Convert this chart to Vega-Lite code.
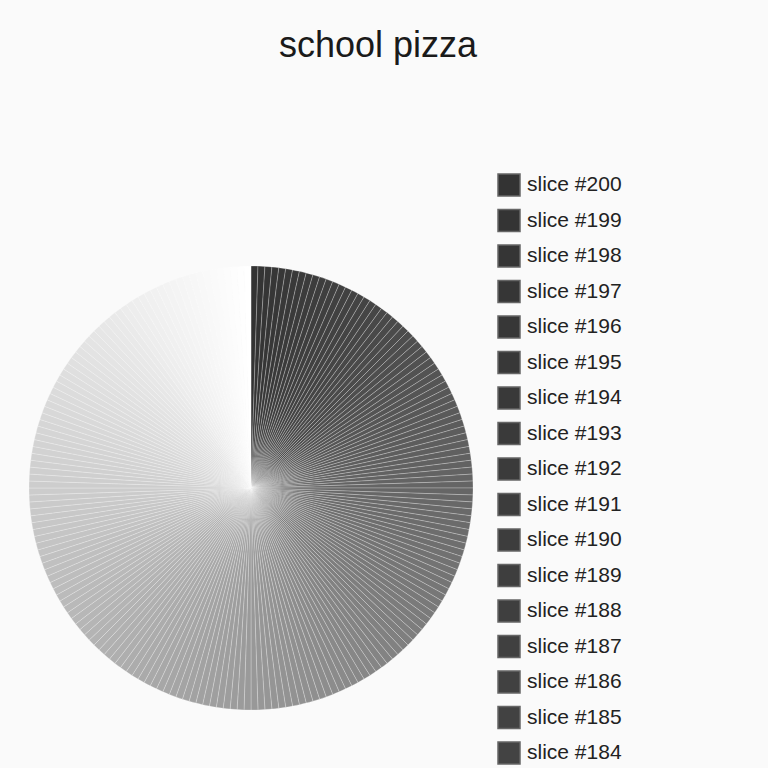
{
  "$schema": "https://vega.github.io/schema/vega-lite/v6.json",
  "width": 444,
  "height": 444,
  "autosize": "none",
  "padding": {"left": 29, "top": 266, "right": 295, "bottom": 58},
  "background": "#fafafa",
  "title": {
    "text": "school pizza",
    "font": "Liberation Sans",
    "fontSize": 36,
    "fontWeight": "normal",
    "color": "#1a1a1a",
    "anchor": "middle",
    "frame": "group",
    "baseline": "alphabetic",
    "dx": 127,
    "offset": 80
  },
  "config": {"view": {"stroke": null}},
  "data": {
    "values": [
      {"slice": "slice #200", "n": 200, "v": 1}, {"slice": "slice #199", "n": 199, "v": 1}, {"slice": "slice #198", "n": 198, "v": 1}, {"slice": "slice #197", "n": 197, "v": 1},
      {"slice": "slice #196", "n": 196, "v": 1}, {"slice": "slice #195", "n": 195, "v": 1}, {"slice": "slice #194", "n": 194, "v": 1}, {"slice": "slice #193", "n": 193, "v": 1},
      {"slice": "slice #192", "n": 192, "v": 1}, {"slice": "slice #191", "n": 191, "v": 1}, {"slice": "slice #190", "n": 190, "v": 1}, {"slice": "slice #189", "n": 189, "v": 1},
      {"slice": "slice #188", "n": 188, "v": 1}, {"slice": "slice #187", "n": 187, "v": 1}, {"slice": "slice #186", "n": 186, "v": 1}, {"slice": "slice #185", "n": 185, "v": 1},
      {"slice": "slice #184", "n": 184, "v": 1}, {"slice": "slice #183", "n": 183, "v": 1}, {"slice": "slice #182", "n": 182, "v": 1}, {"slice": "slice #181", "n": 181, "v": 1},
      {"slice": "slice #180", "n": 180, "v": 1}, {"slice": "slice #179", "n": 179, "v": 1}, {"slice": "slice #178", "n": 178, "v": 1}, {"slice": "slice #177", "n": 177, "v": 1},
      {"slice": "slice #176", "n": 176, "v": 1}, {"slice": "slice #175", "n": 175, "v": 1}, {"slice": "slice #174", "n": 174, "v": 1}, {"slice": "slice #173", "n": 173, "v": 1},
      {"slice": "slice #172", "n": 172, "v": 1}, {"slice": "slice #171", "n": 171, "v": 1}, {"slice": "slice #170", "n": 170, "v": 1}, {"slice": "slice #169", "n": 169, "v": 1},
      {"slice": "slice #168", "n": 168, "v": 1}, {"slice": "slice #167", "n": 167, "v": 1}, {"slice": "slice #166", "n": 166, "v": 1}, {"slice": "slice #165", "n": 165, "v": 1},
      {"slice": "slice #164", "n": 164, "v": 1}, {"slice": "slice #163", "n": 163, "v": 1}, {"slice": "slice #162", "n": 162, "v": 1}, {"slice": "slice #161", "n": 161, "v": 1},
      {"slice": "slice #160", "n": 160, "v": 1}, {"slice": "slice #159", "n": 159, "v": 1}, {"slice": "slice #158", "n": 158, "v": 1}, {"slice": "slice #157", "n": 157, "v": 1},
      {"slice": "slice #156", "n": 156, "v": 1}, {"slice": "slice #155", "n": 155, "v": 1}, {"slice": "slice #154", "n": 154, "v": 1}, {"slice": "slice #153", "n": 153, "v": 1},
      {"slice": "slice #152", "n": 152, "v": 1}, {"slice": "slice #151", "n": 151, "v": 1}, {"slice": "slice #150", "n": 150, "v": 1}, {"slice": "slice #149", "n": 149, "v": 1},
      {"slice": "slice #148", "n": 148, "v": 1}, {"slice": "slice #147", "n": 147, "v": 1}, {"slice": "slice #146", "n": 146, "v": 1}, {"slice": "slice #145", "n": 145, "v": 1},
      {"slice": "slice #144", "n": 144, "v": 1}, {"slice": "slice #143", "n": 143, "v": 1}, {"slice": "slice #142", "n": 142, "v": 1}, {"slice": "slice #141", "n": 141, "v": 1},
      {"slice": "slice #140", "n": 140, "v": 1}, {"slice": "slice #139", "n": 139, "v": 1}, {"slice": "slice #138", "n": 138, "v": 1}, {"slice": "slice #137", "n": 137, "v": 1},
      {"slice": "slice #136", "n": 136, "v": 1}, {"slice": "slice #135", "n": 135, "v": 1}, {"slice": "slice #134", "n": 134, "v": 1}, {"slice": "slice #133", "n": 133, "v": 1},
      {"slice": "slice #132", "n": 132, "v": 1}, {"slice": "slice #131", "n": 131, "v": 1}, {"slice": "slice #130", "n": 130, "v": 1}, {"slice": "slice #129", "n": 129, "v": 1},
      {"slice": "slice #128", "n": 128, "v": 1}, {"slice": "slice #127", "n": 127, "v": 1}, {"slice": "slice #126", "n": 126, "v": 1}, {"slice": "slice #125", "n": 125, "v": 1},
      {"slice": "slice #124", "n": 124, "v": 1}, {"slice": "slice #123", "n": 123, "v": 1}, {"slice": "slice #122", "n": 122, "v": 1}, {"slice": "slice #121", "n": 121, "v": 1},
      {"slice": "slice #120", "n": 120, "v": 1}, {"slice": "slice #119", "n": 119, "v": 1}, {"slice": "slice #118", "n": 118, "v": 1}, {"slice": "slice #117", "n": 117, "v": 1},
      {"slice": "slice #116", "n": 116, "v": 1}, {"slice": "slice #115", "n": 115, "v": 1}, {"slice": "slice #114", "n": 114, "v": 1}, {"slice": "slice #113", "n": 113, "v": 1},
      {"slice": "slice #112", "n": 112, "v": 1}, {"slice": "slice #111", "n": 111, "v": 1}, {"slice": "slice #110", "n": 110, "v": 1}, {"slice": "slice #109", "n": 109, "v": 1},
      {"slice": "slice #108", "n": 108, "v": 1}, {"slice": "slice #107", "n": 107, "v": 1}, {"slice": "slice #106", "n": 106, "v": 1}, {"slice": "slice #105", "n": 105, "v": 1},
      {"slice": "slice #104", "n": 104, "v": 1}, {"slice": "slice #103", "n": 103, "v": 1}, {"slice": "slice #102", "n": 102, "v": 1}, {"slice": "slice #101", "n": 101, "v": 1},
      {"slice": "slice #100", "n": 100, "v": 1}, {"slice": "slice #99", "n": 99, "v": 1}, {"slice": "slice #98", "n": 98, "v": 1}, {"slice": "slice #97", "n": 97, "v": 1},
      {"slice": "slice #96", "n": 96, "v": 1}, {"slice": "slice #95", "n": 95, "v": 1}, {"slice": "slice #94", "n": 94, "v": 1}, {"slice": "slice #93", "n": 93, "v": 1},
      {"slice": "slice #92", "n": 92, "v": 1}, {"slice": "slice #91", "n": 91, "v": 1}, {"slice": "slice #90", "n": 90, "v": 1}, {"slice": "slice #89", "n": 89, "v": 1},
      {"slice": "slice #88", "n": 88, "v": 1}, {"slice": "slice #87", "n": 87, "v": 1}, {"slice": "slice #86", "n": 86, "v": 1}, {"slice": "slice #85", "n": 85, "v": 1},
      {"slice": "slice #84", "n": 84, "v": 1}, {"slice": "slice #83", "n": 83, "v": 1}, {"slice": "slice #82", "n": 82, "v": 1}, {"slice": "slice #81", "n": 81, "v": 1},
      {"slice": "slice #80", "n": 80, "v": 1}, {"slice": "slice #79", "n": 79, "v": 1}, {"slice": "slice #78", "n": 78, "v": 1}, {"slice": "slice #77", "n": 77, "v": 1},
      {"slice": "slice #76", "n": 76, "v": 1}, {"slice": "slice #75", "n": 75, "v": 1}, {"slice": "slice #74", "n": 74, "v": 1}, {"slice": "slice #73", "n": 73, "v": 1},
      {"slice": "slice #72", "n": 72, "v": 1}, {"slice": "slice #71", "n": 71, "v": 1}, {"slice": "slice #70", "n": 70, "v": 1}, {"slice": "slice #69", "n": 69, "v": 1},
      {"slice": "slice #68", "n": 68, "v": 1}, {"slice": "slice #67", "n": 67, "v": 1}, {"slice": "slice #66", "n": 66, "v": 1}, {"slice": "slice #65", "n": 65, "v": 1},
      {"slice": "slice #64", "n": 64, "v": 1}, {"slice": "slice #63", "n": 63, "v": 1}, {"slice": "slice #62", "n": 62, "v": 1}, {"slice": "slice #61", "n": 61, "v": 1},
      {"slice": "slice #60", "n": 60, "v": 1}, {"slice": "slice #59", "n": 59, "v": 1}, {"slice": "slice #58", "n": 58, "v": 1}, {"slice": "slice #57", "n": 57, "v": 1},
      {"slice": "slice #56", "n": 56, "v": 1}, {"slice": "slice #55", "n": 55, "v": 1}, {"slice": "slice #54", "n": 54, "v": 1}, {"slice": "slice #53", "n": 53, "v": 1},
      {"slice": "slice #52", "n": 52, "v": 1}, {"slice": "slice #51", "n": 51, "v": 1}, {"slice": "slice #50", "n": 50, "v": 1}, {"slice": "slice #49", "n": 49, "v": 1},
      {"slice": "slice #48", "n": 48, "v": 1}, {"slice": "slice #47", "n": 47, "v": 1}, {"slice": "slice #46", "n": 46, "v": 1}, {"slice": "slice #45", "n": 45, "v": 1},
      {"slice": "slice #44", "n": 44, "v": 1}, {"slice": "slice #43", "n": 43, "v": 1}, {"slice": "slice #42", "n": 42, "v": 1}, {"slice": "slice #41", "n": 41, "v": 1},
      {"slice": "slice #40", "n": 40, "v": 1}, {"slice": "slice #39", "n": 39, "v": 1}, {"slice": "slice #38", "n": 38, "v": 1}, {"slice": "slice #37", "n": 37, "v": 1},
      {"slice": "slice #36", "n": 36, "v": 1}, {"slice": "slice #35", "n": 35, "v": 1}, {"slice": "slice #34", "n": 34, "v": 1}, {"slice": "slice #33", "n": 33, "v": 1},
      {"slice": "slice #32", "n": 32, "v": 1}, {"slice": "slice #31", "n": 31, "v": 1}, {"slice": "slice #30", "n": 30, "v": 1}, {"slice": "slice #29", "n": 29, "v": 1},
      {"slice": "slice #28", "n": 28, "v": 1}, {"slice": "slice #27", "n": 27, "v": 1}, {"slice": "slice #26", "n": 26, "v": 1}, {"slice": "slice #25", "n": 25, "v": 1},
      {"slice": "slice #24", "n": 24, "v": 1}, {"slice": "slice #23", "n": 23, "v": 1}, {"slice": "slice #22", "n": 22, "v": 1}, {"slice": "slice #21", "n": 21, "v": 1},
      {"slice": "slice #20", "n": 20, "v": 1}, {"slice": "slice #19", "n": 19, "v": 1}, {"slice": "slice #18", "n": 18, "v": 1}, {"slice": "slice #17", "n": 17, "v": 1},
      {"slice": "slice #16", "n": 16, "v": 1}, {"slice": "slice #15", "n": 15, "v": 1}, {"slice": "slice #14", "n": 14, "v": 1}, {"slice": "slice #13", "n": 13, "v": 1},
      {"slice": "slice #12", "n": 12, "v": 1}, {"slice": "slice #11", "n": 11, "v": 1}, {"slice": "slice #10", "n": 10, "v": 1}, {"slice": "slice #9", "n": 9, "v": 1},
      {"slice": "slice #8", "n": 8, "v": 1}, {"slice": "slice #7", "n": 7, "v": 1}, {"slice": "slice #6", "n": 6, "v": 1}, {"slice": "slice #5", "n": 5, "v": 1},
      {"slice": "slice #4", "n": 4, "v": 1}, {"slice": "slice #3", "n": 3, "v": 1}, {"slice": "slice #2", "n": 2, "v": 1}, {"slice": "slice #1", "n": 1, "v": 1}
    ]
  },
  "mark": {"type": "arc", "stroke": "#fafafa", "strokeWidth": 0.25, "outerRadius": 222},
  "encoding": {
    "theta": {"field": "v", "type": "quantitative", "stack": true},
    "order": {"field": "n", "type": "quantitative", "sort": "descending"},
    "color": {
      "field": "slice",
      "type": "nominal",
      "sort": {"field": "n", "order": "descending"},
      "scale": {
        "range": [
          "#333333", "#343434", "#353535", "#363636", "#373737", "#383838", "#393939", "#3a3a3a", "#3b3b3b", "#3c3c3c",
          "#3d3d3d", "#3e3e3e", "#3f3f3f", "#404040", "#414141", "#424242", "#434343", "#444444", "#454545", "#464646",
          "#484848", "#494949", "#4a4a4a", "#4b4b4b", "#4c4c4c", "#4d4d4d", "#4e4e4e", "#4f4f4f", "#505050", "#515151",
          "#525252", "#535353", "#545454", "#555555", "#565656", "#575757", "#585858", "#595959", "#5a5a5a", "#5b5b5b",
          "#5c5c5c", "#5d5d5d", "#5e5e5e", "#5f5f5f", "#606060", "#616161", "#626262", "#636363", "#646464", "#656565",
          "#666666", "#676767", "#686868", "#696969", "#6a6a6a", "#6b6b6b", "#6c6c6c", "#6d6d6d", "#6e6e6e", "#6f6f6f",
          "#717171", "#727272", "#737373", "#747474", "#757575", "#767676", "#777777", "#787878", "#797979", "#7a7a7a",
          "#7b7b7b", "#7c7c7c", "#7d7d7d", "#7e7e7e", "#7f7f7f", "#808080", "#818181", "#828282", "#838383", "#848484",
          "#858585", "#868686", "#878787", "#888888", "#898989", "#8a8a8a", "#8b8b8b", "#8c8c8c", "#8d8d8d", "#8e8e8e",
          "#8f8f8f", "#909090", "#919191", "#929292", "#939393", "#949494", "#959595", "#969696", "#979797", "#989898",
          "#9a9a9a", "#9b9b9b", "#9c9c9c", "#9d9d9d", "#9e9e9e", "#9f9f9f", "#a0a0a0", "#a1a1a1", "#a2a2a2", "#a3a3a3",
          "#a4a4a4", "#a5a5a5", "#a6a6a6", "#a7a7a7", "#a8a8a8", "#a9a9a9", "#aaaaaa", "#ababab", "#acacac", "#adadad",
          "#aeaeae", "#afafaf", "#b0b0b0", "#b1b1b1", "#b2b2b2", "#b3b3b3", "#b4b4b4", "#b5b5b5", "#b6b6b6", "#b7b7b7",
          "#b8b8b8", "#b9b9b9", "#bababa", "#bbbbbb", "#bcbcbc", "#bdbdbd", "#bebebe", "#bfbfbf", "#c0c0c0", "#c1c1c1",
          "#c3c3c3", "#c4c4c4", "#c5c5c5", "#c6c6c6", "#c7c7c7", "#c8c8c8", "#c9c9c9", "#cacaca", "#cbcbcb", "#cccccc",
          "#cdcdcd", "#cecece", "#cfcfcf", "#d0d0d0", "#d1d1d1", "#d2d2d2", "#d3d3d3", "#d4d4d4", "#d5d5d5", "#d6d6d6",
          "#d7d7d7", "#d8d8d8", "#d9d9d9", "#dadada", "#dbdbdb", "#dcdcdc", "#dddddd", "#dedede", "#dfdfdf", "#e0e0e0",
          "#e1e1e1", "#e2e2e2", "#e3e3e3", "#e4e4e4", "#e5e5e5", "#e6e6e6", "#e7e7e7", "#e8e8e8", "#e9e9e9", "#eaeaea",
          "#ececec", "#ededed", "#eeeeee", "#efefef", "#f0f0f0", "#f1f1f1", "#f2f2f2", "#f3f3f3", "#f4f4f4", "#f5f5f5",
          "#f6f6f6", "#f7f7f7", "#f8f8f8", "#f9f9f9", "#fafafa", "#fbfbfb", "#fcfcfc", "#fdfdfd", "#fefefe", "#ffffff"
        ]
      },
      "legend": {
        "title": null,
        "orient": "none",
        "legendX": 468,
        "legendY": -93,
        "padding": 0,
        "symbolType": "square",
        "symbolSize": 484,
        "symbolStrokeColor": "#666666",
        "symbolStrokeWidth": 1.5,
        "symbolOpacity": 1,
        "labelFont": "Liberation Sans",
        "labelFontSize": 21,
        "labelColor": "#222222",
        "labelOffset": 6,
        "rowPadding": 7.5,
        "symbolLimit": 18,
        "encode": {
          "symbols": {"update": {"stroke": {"value": "#666666"}, "strokeWidth": {"value": 1.5}}}
        }
      }
    }
  }
}
